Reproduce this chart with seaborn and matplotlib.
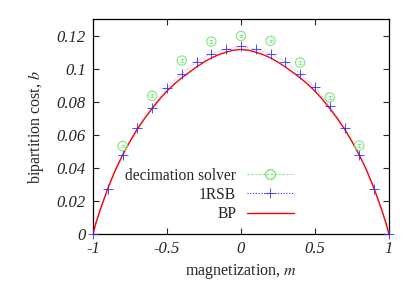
import numpy as np
import pandas as pd
import matplotlib
matplotlib.use("Agg")
import matplotlib.pyplot as plt
from matplotlib.lines import Line2D
import seaborn as sns

# BP curve
bp_m = [-1.0, -0.98, -0.95, -0.9, -0.85, -0.8, -0.75, -0.7, -0.65, -0.6, -0.55,
        -0.5, -0.45, -0.4, -0.35, -0.3, -0.25, -0.2, -0.15, -0.1, -0.05, 0.0,
        0.05, 0.1, 0.15, 0.2, 0.25, 0.3, 0.35, 0.4, 0.45, 0.5, 0.55, 0.6, 0.65,
        0.7, 0.75, 0.8, 0.85, 0.9, 0.95, 0.98, 1.0]
bp_b = [0.0, 0.0068, 0.0150, 0.0275, 0.0385, 0.0477, 0.0560, 0.0635, 0.0700,
        0.0760, 0.0815, 0.0865, 0.0907, 0.0945, 0.0978, 0.1010, 0.1040, 0.1065,
        0.1085, 0.1100, 0.1112, 0.1116, 0.1112, 0.1100, 0.1085, 0.1065, 0.1040,
        0.1010, 0.0978, 0.0945, 0.0907, 0.0865, 0.0815, 0.0760, 0.0700, 0.0635,
        0.0560, 0.0477, 0.0385, 0.0275, 0.0150, 0.0068, 0.0]

# 1RSB points
rsb_m = [-1.0, -0.9, -0.8, -0.7, -0.6, -0.5, -0.4, -0.3, -0.2, -0.1, 0.0,
         0.1, 0.2, 0.3, 0.4, 0.5, 0.6, 0.7, 0.8, 0.9, 1.0]
rsb_b = [0.0, 0.0271, 0.0478, 0.0643, 0.0764, 0.0884, 0.0969, 0.1043, 0.1090,
         0.1118, 0.1135, 0.1118, 0.1090, 0.1043, 0.0970, 0.0888, 0.0774, 0.0643,
         0.0478, 0.0271, 0.0]

# decimation solver
dec_m = [-0.8, -0.6, -0.4, -0.2, 0.0, 0.2, 0.4, 0.6, 0.8]
dec_b = [0.0532, 0.0836, 0.1049, 0.1164, 0.1198, 0.1168, 0.1037, 0.0826, 0.0535]
dec_err = [0.0008, 0.0008, 0.0008, 0.0008, 0.0008, 0.0008, 0.0008, 0.0008, 0.0008]

x_ticks = [-1, -0.5, 0, 0.5, 1]
x_labels = ["-1", "-0.5", "0", "0.5", "1"]
y_ticks = [0, 0.02, 0.04, 0.06, 0.08, 0.1, 0.12]
y_labels = ["0", "0.02", "0.04", "0.06", "0.08", "0.1", "0.12"]

green = "#7be87b"
blue = "#3030ff"
red = "#ff0000"

sns.set_style("ticks")
plt.rcParams["font.family"] = ["Liberation Serif", "DejaVu Serif"]
plt.rcParams["mathtext.fontset"] = "stix"

fig = plt.figure(figsize=(4.07, 2.85), dpi=100)
ax = fig.add_axes([0.2285, 0.179, 0.727, 0.754])

bp = pd.DataFrame({"m": bp_m, "b": bp_b})
rsb = pd.DataFrame({"m": rsb_m, "b": rsb_b})
dec = pd.DataFrame({"m": dec_m, "b": dec_b})

sns.lineplot(data=bp, x="m", y="b", ax=ax, color=red, linewidth=1.0,
             sort=False, zorder=3)
sns.lineplot(data=rsb, x="m", y="b", ax=ax, color=blue, linewidth=0.6,
             linestyle=(0, (1, 1.5)), alpha=0.5, sort=False, zorder=2)
ax.plot(rsb_m, rsb_b, linestyle="none", marker="+", markersize=7.5,
        markeredgewidth=0.6, color=blue, zorder=4, clip_on=False)
ax.errorbar(dec_m, dec_b, yerr=dec_err, fmt="none", ecolor=green,
            elinewidth=0.6, capsize=1.5, capthick=0.6, zorder=4)
sns.scatterplot(data=dec, x="m", y="b", ax=ax, marker="o", s=45,
                facecolor="none", edgecolor=green, linewidth=0.8, zorder=5)

ax.set_xlim(-1, 1)
ax.set_ylim(0, 0.13)
ax.set_xticks(x_ticks)
ax.set_xticklabels(x_labels, fontstyle="italic", fontsize=12)
ax.set_yticks(y_ticks)
ax.set_yticklabels(y_labels, fontstyle="italic", fontsize=12)
ax.tick_params(direction="in", length=4, width=0.8, top=True, right=True,
               pad=5)
for sp in ax.spines.values():
    sp.set_linewidth(0.9)
    sp.set_color("black")

ax.set_xlabel("magnetization, $m$", fontsize=11.5, labelpad=4)
ax.set_ylabel("bipartition cost, $b$", fontsize=11.5, labelpad=8)

handles = [
    Line2D([], [], color=green, linestyle=(0, (2, 1.5)), linewidth=0.8,
           marker="o", markersize=7, markerfacecolor="none",
           markeredgecolor=green),
    Line2D([], [], color=blue, linestyle=(0, (1, 1.5)), linewidth=0.8,
           marker="+", markersize=7.5, markeredgewidth=0.6),
    Line2D([], [], color=red, linewidth=1.0),
]
ax.legend(handles, ["decimation solver", "1RSB", "BP"], loc="lower right",
          bbox_to_anchor=(0.715, 0.005), frameon=False, markerfirst=False,
          fontsize=11.2, handlelength=3.0, labelspacing=0.2,
          handletextpad=0.7, borderpad=0.2)

fig.savefig("out.png", dpi=100)
